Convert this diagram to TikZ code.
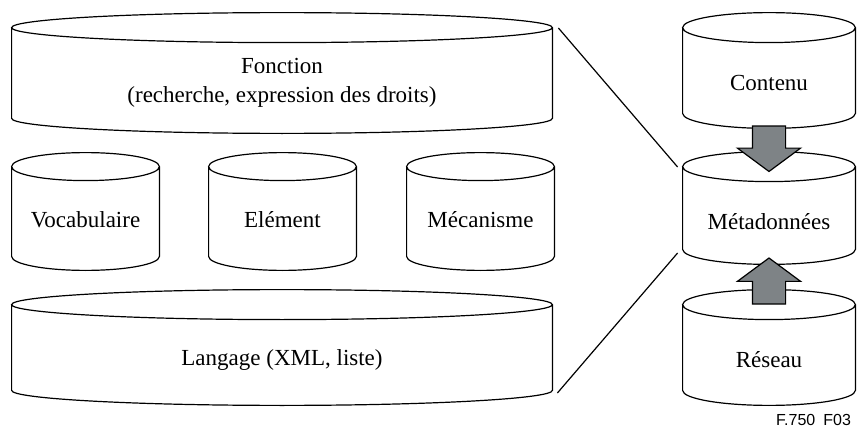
\documentclass[tikz,border=0pt]{standalone}
\usepackage{fontspec}
\setmainfont{Liberation Serif}
\newfontfamily\figfont{Liberation Sans}
\usetikzlibrary{shapes.arrows, calc}

\definecolor{arrowgray}{RGB}{126,131,134}

\tikzset{
  drum/.style = {rectangle, inner sep=0pt, minimum width=#1},
  drum/.default = 73.5pt,
  drumline/.style = {line width=0.6pt},
  blockarrow/.style = {single arrow, draw, line width=0.6pt, fill=arrowgray,
                       inner sep=8pt, single arrow head extend=7.5pt,
                       single arrow tip angle=107, anchor=tail},
  caption/.style = {font=\fontsize{11.5}{14.5}\selectfont, align=center}
}

% outline of a standing cylinder around node #1, ellipse half-height #2
\newcommand\drawdrum[2]{%
  \draw[drumline] let \p1=(#1.north west), \p2=(#1.south east), \n1={(\x2-\x1)/2} in
    (\x1,\y1-#2) -- (\x1,\y2+#2)
    arc[start angle=180, end angle=360, x radius=\n1, y radius=#2] -- (\x2,\y1-#2)
    (\x1+\n1,\y1-#2) ellipse[x radius=\n1, y radius=#2];
}

\begin{document}
\begin{tikzpicture}[x=0.5pt, y=-0.5pt]
  \useasboundingbox (0,0) rectangle (859,428);

  % left stack
  \node[drum=270pt, minimum height=60pt,
        label={[caption, yshift=-5pt]center:{Fonction\\(recherche, expression des droits)}}] (fonction) at (282,73) {};
  \node[drum, minimum height=58.5pt,
        label={[caption, yshift=-4pt]center:Vocabulaire}] (vocab) at (85.5,211.5) {};
  \node[drum, minimum height=58.5pt,
        label={[caption, yshift=-4pt]center:Elément}] (elem) at (282.5,211.5) {};
  \node[drum, minimum height=58.5pt,
        label={[caption, yshift=-4pt]center:Mécanisme}] (meca) at (480.5,211.5) {};
  \node[drum=270pt, minimum height=57.5pt,
        label={[caption, yshift=-6.5pt]center:{Langage (XML, liste)}}] (langage) at (282,347.5) {};

  % right stack
  \node[drum=86pt, minimum height=57.5pt,
        label={[caption, yshift=-6pt]center:Contenu}] (contenu) at (769,70.5) {};
  \node[drum=86pt, minimum height=56pt,
        label={[caption, yshift=-7pt]center:Métadonnées}] (meta) at (769,208) {};
  \node[drum=86pt, minimum height=57.5pt,
        label={[caption, yshift=-6pt]center:Réseau}] (reseau) at (769,347.5) {};

  \drawdrum{fonction}{7.5pt}
  \drawdrum{vocab}{7pt}
  \drawdrum{elem}{7pt}
  \drawdrum{meca}{7pt}
  \drawdrum{langage}{7.5pt}
  \drawdrum{contenu}{7.5pt}
  \drawdrum{meta}{7.5pt}
  \drawdrum{reseau}{7.5pt}

  \node[blockarrow, rotate=-90, minimum height=20.5pt, minimum width=31pt] (down) at ([yshift=1.5pt]contenu.south) {};
  \node[blockarrow, rotate=90, minimum height=23pt, minimum width=31pt] (up) at ([yshift=-7.5pt]reseau.north) {};

  \draw[drumline] ([shift={(6,-45)}]fonction.east) -- ([shift={(-5,-41)}]meta.west);
  \draw[drumline] ([shift={(5,45.5)}]langage.east) -- ([shift={(-5,45)}]meta.west);

  \node[anchor=east, font=\figfont\fontsize{8}{9}\selectfont] (figno) at (858,420) {F.750\enspace F03};
\end{tikzpicture}
\end{document}
